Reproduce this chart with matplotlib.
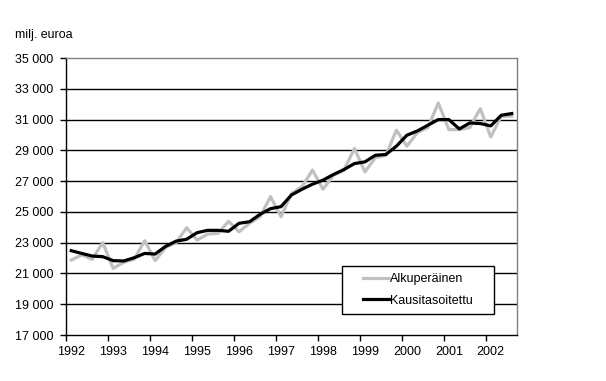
import numpy as np
import matplotlib.pyplot as plt
from matplotlib.patches import Rectangle
from matplotlib.ticker import FixedLocator, FuncFormatter

plt.rcParams['font.family'] = ['Liberation Sans', 'DejaVu Sans']

# quarterly values 1992Q1 .. 2002Q3, milj. euroa
years = list(range(1992, 2003))
alkuperainen = [21870, 22200, 21920, 23000, 21330, 21720, 21920, 23130,
                21830, 22700, 23000, 23970, 23170, 23560, 23610, 24390,
                23710, 24260, 24690, 25990, 24690, 26200, 26640, 27720,
                26470, 27380, 27710, 29120, 27600, 28530, 28680, 30310,
                29270, 30150, 30480, 32080, 30350, 30350, 30480, 31710,
                29870, 31220, 31220]
kausitasoitettu = [22480, 22300, 22130, 22090, 21830, 21810, 22020, 22300,
                   22260, 22760, 23100, 23220, 23650, 23800, 23800, 23740,
                   24260, 24360, 24840, 25210, 25340, 26100, 26470, 26800,
                   27060, 27430, 27750, 28140, 28250, 28680, 28730, 29270,
                   29980, 30260, 30630, 31000, 31000, 30390, 30780, 30740,
                   30590, 31280, 31390]
y_ticks = list(range(17000, 35001, 2000))

n = len(alkuperainen)
x = np.arange(n)
fs = 9

fig = plt.figure(figsize=(6.06, 3.81), dpi=100)
ax = fig.add_axes([66/606, 46/381, 451/606, 277/381])

for v in y_ticks[1:-1]:
    ax.axhline(v, color='black', lw=1.0, zorder=1)

ax.plot(x, alkuperainen, color='#c0c0c0', lw=2.3, zorder=2, label='Alkuperäinen')
ax.plot(x, kausitasoitettu, color='black', lw=2.3, zorder=2.5, label='Kausitasoitettu')

ax.set_xlim(-0.5, n - 0.5)
ax.set_ylim(17000, 35000)

# year tick marks between categories, labels on first quarter
ax.xaxis.set_major_locator(FixedLocator([4*k - 0.5 for k in range(len(years))]))
ax.xaxis.set_major_formatter(FuncFormatter(lambda v, p: ''))
ax.xaxis.set_minor_locator(FixedLocator([4*k for k in range(len(years))]))
ax.set_xticklabels([str(y) for y in years], minor=True)
ax.tick_params(axis='x', which='major', direction='out', length=4, width=1, color='black')
ax.tick_params(axis='x', which='minor', length=0, pad=8, labelsize=fs)

ax.set_yticks(y_ticks)
ax.set_yticklabels([f"{v:,}".replace(',', ' ') for v in y_ticks])
ax.tick_params(axis='y', direction='out', length=4, width=1, labelsize=fs, pad=5)

for s in ['top', 'right']:
    ax.spines[s].set_color('#808080')
    ax.spines[s].set_linewidth(1.0)
for s in ['left', 'bottom']:
    ax.spines[s].set_color('black')
    ax.spines[s].set_linewidth(1.0)

# legend frame
bx, by, bw, bh = 0.612, 0.0758, 0.337, 0.173
ax.add_patch(Rectangle((bx, by), bw, bh, transform=ax.transAxes,
                       facecolor='white', edgecolor='black', lw=1.0, zorder=4))
leg = ax.legend(loc='center', bbox_to_anchor=(bx + bw/2, by + bh/2),
                frameon=False, fontsize=fs, handlelength=2.1, handletextpad=0.1,
                labelspacing=0.75, borderpad=0)
leg.set_zorder(5)

fig.text(15/606, 1 - 35/381, 'milj. euroa', fontsize=fs, va='center', ha='left')

fig.savefig('out.png', dpi=100)
